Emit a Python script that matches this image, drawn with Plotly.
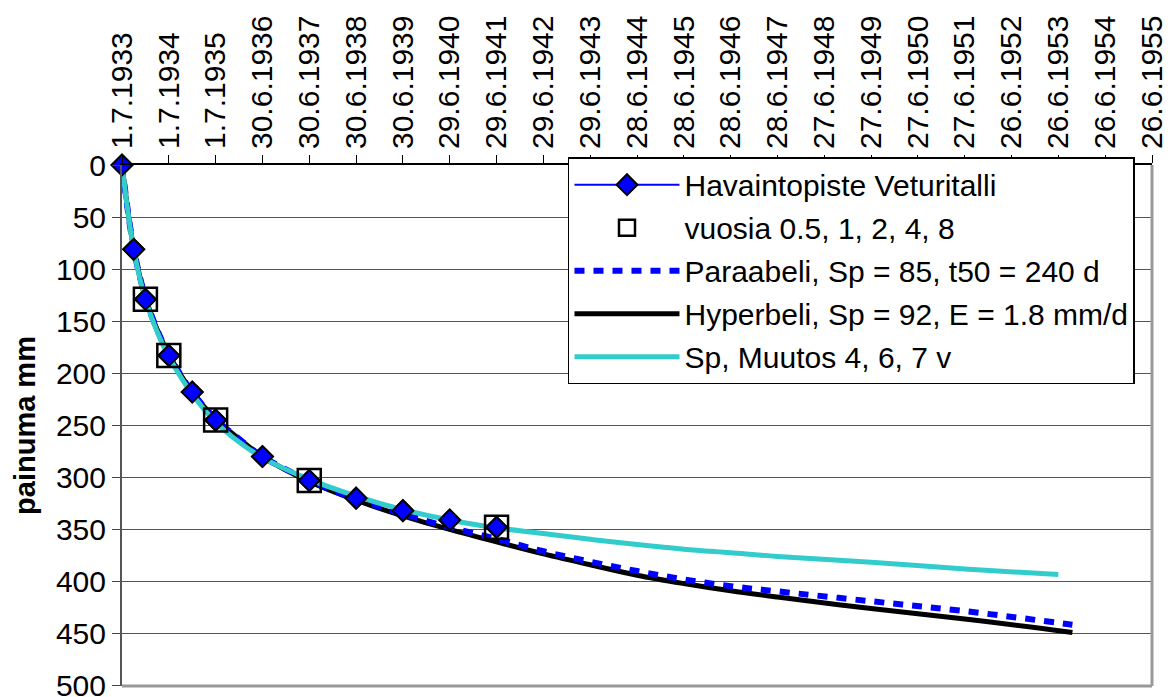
import plotly.graph_objects as go

# x values are years from 1.7.1933, y values settlement in mm (axis reversed)
date_labels = ['1.7.1933', '1.7.1934', '1.7.1935', '30.6.1936', '30.6.1937', '30.6.1938',
               '30.6.1939', '29.6.1940', '29.6.1941', '29.6.1942', '29.6.1943', '28.6.1944',
               '28.6.1945', '28.6.1946', '28.6.1947', '27.6.1948', '27.6.1949', '27.6.1950',
               '27.6.1951', '26.6.1952', '26.6.1953', '26.6.1954', '26.6.1955']
tick_years = list(range(len(date_labels)))

obs_years = [0, 0.25, 0.5, 1, 1.5, 2, 3, 4, 5, 6, 7, 8]
obs_mm = [0, 81, 129, 183, 218, 245, 280, 303, 320, 332, 341, 348]

marked_years = [0.5, 1, 2, 4, 8]
marked_mm = [129, 183, 245, 303, 348]

fit_years = [0, 0.25, 0.5, 0.75, 1, 1.5, 2, 2.5, 3, 4, 5, 6, 7, 8, 9, 10, 11, 12, 13, 14, 16, 18, 20.3]
para_mm = [0, 80, 127, 158, 182, 218, 244, 263, 280, 303, 321, 335, 348, 359, 371, 381, 390, 398,
           404.5, 409.5, 419, 428.5, 441.5]
hyper_mm = [0, 80, 127, 158, 182, 218, 244, 263, 280, 304, 322, 337, 350, 362, 373.5, 384, 394,
            402, 409, 415, 426, 436, 449]

sp_years = [0, 0.25, 0.5, 0.75, 1, 1.5, 2, 2.5, 3, 4, 5, 6, 7, 8, 9, 10, 11, 12, 13, 14, 16, 18, 20]
sp_mm = [0, 81, 129, 160, 184, 220, 247, 266, 281, 302, 318, 331, 341, 348.5, 354, 359.5, 364.5,
         369, 372.5, 376, 381.5, 388, 393.4]

y_ticks = list(range(0, 550, 50))

FONT = 'Liberation Sans, Arial, sans-serif'
FSIZE = 30
BLUE = '#0000ff'
CYAN = '#33cccc'

fig = go.Figure()

fig.add_trace(go.Scatter(
    x=obs_years, y=obs_mm, mode='lines+markers', name='Havaintopiste Veturitalli',
    line=dict(color=BLUE, width=2),
    marker=dict(symbol='diamond', size=16, color=BLUE, line=dict(color='black', width=2)),
    legendgroup='g1', legendrank=1, cliponaxis=False,
))
fig.add_trace(go.Scatter(
    x=fit_years, y=hyper_mm, mode='lines', name='Hyperbeli, Sp = 92, E = 1.8 mm/d',
    line=dict(color='black', width=5, shape='spline'),
    legendgroup='g4', legendrank=4,
))
fig.add_trace(go.Scatter(
    x=fit_years, y=para_mm, mode='lines', name='Paraabeli, Sp = 85, t50 = 240 d',
    line=dict(color=BLUE, width=6, dash='10px,9px', shape='spline'),
    legendgroup='g3', legendrank=3,
))
fig.add_trace(go.Scatter(
    x=sp_years, y=sp_mm, mode='lines', name='Sp, Muutos 4, 6, 7 v',
    line=dict(color=CYAN, width=5, shape='spline'),
    legendgroup='g5', legendrank=5,
))
fig.add_trace(go.Scatter(
    x=marked_years, y=marked_mm, mode='markers', name='vuosia 0.5, 1, 2, 4, 8',
    marker=dict(symbol='square-open', size=23, color='black', line=dict(color='black', width=2.5)),
    legendgroup='g2', legendrank=2,
))
# diamonds again on top of the squares and curves
fig.add_trace(go.Scatter(
    x=obs_years, y=obs_mm, mode='markers', showlegend=False, hoverinfo='skip',
    marker=dict(symbol='diamond', size=16, color=BLUE, line=dict(color='black', width=2)),
    legendgroup='g1', cliponaxis=False,
))

fig.update_xaxes(
    range=[0, 22], side='top', tickmode='array', tickvals=tick_years, ticktext=date_labels,
    tickangle=-90, ticks='outside', ticklen=8, tickcolor='black', automargin=False,
    showline=True, linecolor='black', linewidth=2, showgrid=False, zeroline=False,
    tickfont=dict(size=FSIZE, color='black', family=FONT),
)
fig.update_yaxes(
    range=[500.4, 0], tickmode='array', tickvals=y_ticks, ticks='outside', ticklen=8,
    tickcolor='#444', showline=True, linecolor='#555', linewidth=2, automargin=False,
    gridcolor='#555', gridwidth=1, zeroline=False, ticklabeloverflow='allow',
    tickfont=dict(size=FSIZE, color='black', family=FONT),
    title=dict(text='<b>painuma mm</b>', standoff=12,
               font=dict(size=29, color='black', family=FONT)),
)

# gray plot-area frame on right and bottom
fig.add_shape(type='line', xref='paper', yref='paper', x0=1, x1=1, y0=0, y1=1,
              line=dict(color='#999999', width=3))
fig.add_shape(type='line', xref='paper', yref='paper', x0=0, x1=1, y0=0, y1=0,
              line=dict(color='#999999', width=3))

fig.update_layout(
    width=1170, height=697,
    margin=dict(l=122, r=18, t=165, b=11),
    plot_bgcolor='white', paper_bgcolor='white',
    font=dict(family=FONT, size=FSIZE, color='black'),
    showlegend=True,
    legend=dict(
        x=0.433, y=1.015, xanchor='left', yanchor='top',
        bgcolor='white', bordercolor='black', borderwidth=1.5,
        font=dict(size=FSIZE, family=FONT, color='black'),
        itemwidth=105, tracegroupgap=1,
    ),
)

fig.write_html('out.html', config={'displayModeBar': False},
               post_script="document.body.style.margin='0';")
